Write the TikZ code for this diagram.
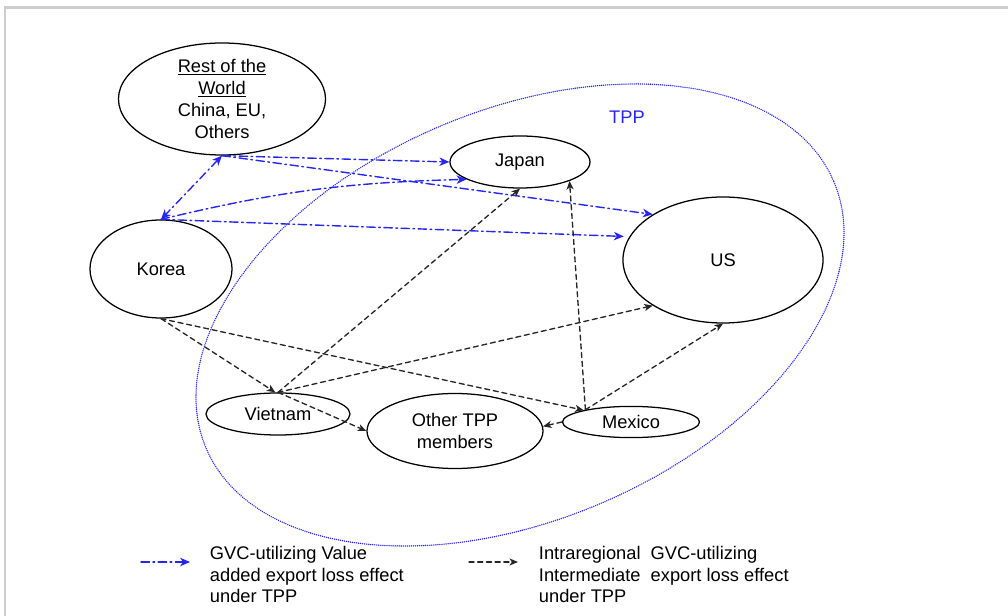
\documentclass[tikz,border=0pt]{standalone}
\usepackage{fontspec}
\setmainfont{Liberation Sans}
\usetikzlibrary{shapes.geometric,arrows.meta}
\definecolor{tppblue}{RGB}{38,38,240}
\definecolor{framegray}{RGB}{205,205,205}
\begin{document}
\begin{tikzpicture}[x=0.025cm,y=-0.025cm,line cap=round,line join=round,
  font=\fontsize{13}{15.6}\selectfont,
  country/.style={draw,ellipse,line width=0.9pt,inner sep=0pt,align=center},
  vaflow/.style={tppblue,line width=1pt,dash pattern=on 6pt off 2.5pt on 1.2pt off 2.5pt,
    >={Stealth[length=7pt,width=6pt,inset=2pt]},->},
  gvcflow/.style={black!85,line width=0.95pt,dash pattern=on 3.6pt off 2.6pt,
    >={Stealth[length=6pt,width=5pt,inset=1.6pt]},->},
  tppline/.style={tppblue,line width=1.1pt,dash pattern=on 0pt off 1.45pt}]
  \useasboundingbox (0,0) rectangle (1008,616);
  % frame
  \draw[framegray,line width=1.6pt,line cap=butt] (4,7.5) -- (1008,7.5);
  \draw[framegray,line width=1.6pt,line cap=butt] (5,7.5) -- (5,616);
  % TPP region
  \draw[tppline,rotate around={23:(520,315)}] (520,315) ellipse [x radius=341,y radius=205];
  \node[text=tppblue] (tpp) at (627,117) {TPP};
  % countries
  \node[country,minimum width=5.175cm,minimum height=2.8cm,inner ysep=-6pt] (row) at (222,99)
    {\underline{Rest of the}\\\underline{World}\\China, EU,\\Others};
  \node[country,minimum width=3.5cm,minimum height=1.3cm] (japan) at (520,162) {Japan};
  \node[country,minimum width=5cm,minimum height=3.15cm] (us) at (723,260) {US};
  \node[country,minimum width=3.55cm,minimum height=2.45cm] (korea) at (161,269) {Korea};
  \node[country,minimum width=3.6cm,minimum height=1.05cm] (vietnam) at (278,414) {Vietnam};
  \node[country,minimum width=4.4cm,minimum height=1.875cm] (other) at (455,431) {Other TPP\\members};
  \node[country,minimum width=3.425cm,minimum height=0.78cm] (mexico) at (631,422) {Mexico};
  % value added export loss
  \draw[vaflow,<->] (row.south) -- (korea.north);
  \draw[vaflow] (row.south) -- (japan.west);
  \draw[vaflow] (row.south) -- (us.147);
  \draw[vaflow] (korea.north) to[bend left=6] (japan.198);
  \draw[vaflow,shorten >=4pt] (korea.north) -- (us.166);
  % intermediate export loss
  \draw[gvcflow] (korea.south) -- (vietnam.97);
  \draw[gvcflow] (korea.south) -- (mexico.166);
  \draw[gvcflow] (vietnam.north) -- (japan.south);
  \draw[gvcflow] (vietnam.north) -- (us.213);
  \draw[gvcflow] (vietnam.north) -- (other.west);
  \draw[gvcflow] (mexico.165) -- (japan.-21);
  \draw[gvcflow] (mexico.165) -- (us.south);
  \draw[gvcflow] (mexico.west) -- (other.3);
  % legend
  \coordinate (vastart) at (141,562);
  \coordinate (vaend) at (190,562);
  \draw[vaflow] (vastart) -- (vaend);
  \node[anchor=west,align=left] (vakey) at (205,574.5)
    {GVC-utilizing Value\\added export loss effect\\under TPP};
  \coordinate (gvcstart) at (469,562);
  \coordinate (gvcend) at (518,562);
  \draw[gvcflow] (gvcstart) -- (gvcend);
  \node[anchor=west,align=left] (gvckey) at (534,574.5)
    {Intraregional\ \ GVC-utilizing\\Intermediate\ \ export loss effect\\under TPP};
\end{tikzpicture}
\end{document}
